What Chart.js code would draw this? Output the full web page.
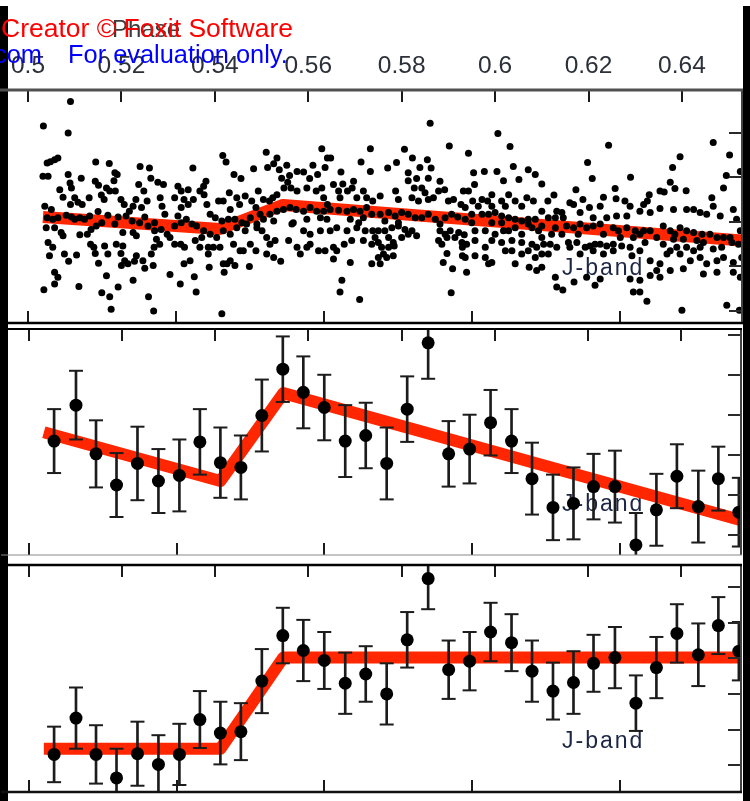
<!DOCTYPE html>
<html>
<head>
<meta charset="utf-8">
<script src="https://cdn.jsdelivr.net/npm/chart.js@4.4.1/dist/chart.umd.min.js"></script>
<style>
  html, body { margin: 0; padding: 0; background: #fff; }
  #wrap { position: relative; width: 750px; height: 801px; overflow: hidden; background: #fff; }
  #wrap canvas { position: absolute; left: 0; }
  .edge { position: absolute; background: #000; }
</style>
</head>
<body>
<div id="wrap">
  <div class="edge" style="left:0;top:6px;width:8px;height:795px"></div>
  <div class="edge" style="left:743px;top:6px;width:7px;height:795px"></div>
  <canvas id="topPanel" width="750" height="327" style="top:0"></canvas>
  <canvas id="midPanel" width="750" height="244" style="top:320px"></canvas>
  <canvas id="lowPanel" width="750" height="245" style="top:556px"></canvas>
</div>
<script>
// ── DATA ────────────────────────────────────────────────
const PHASE_MIN = 0.49572;
const PHASE_MAX = 0.65286;

// secondary (lower) tick positions along the bottom edges, in phase
const lowerTickPhase = [0.5000, 0.5317, 0.5634, 0.5951, 0.6268];

// model curves (phase breakpoints shared by the three bands)
const modelPhase = [0.5032, 0.5411, 0.5546, 0.6529];
const topModel   = [1.0011, 0.9984, 1.0038, 0.9958];
const midModel   = [1.0028, 0.9967, 1.0077, 0.9918];
const lowModel   = [0.9923, 0.9923, 1.0051, 1.0051];

// binned photometry (middle + bottom panel)
const binPhase = [0.5054,0.5101,0.5144,0.5188,0.5233,0.5278,0.5323,0.5367,0.5411,0.5455,0.5500,0.5545,0.5589,0.5634,0.5679,0.5723,0.5768,0.5812,0.5857,0.5901,0.5946,0.5991,0.6036,0.6080,0.6125,0.6169,0.6212,0.6258,0.6303,0.6347,0.6391,0.6437,0.6480,0.6524];
const midFlux = [1.0017,1.0062,1.0001,0.9962,0.9989,0.9967,0.9974,1.0016,0.9990,0.9984,1.0049,1.0107,1.0078,1.0059,1.0017,1.0024,0.9989,1.0057,1.0140,1.0001,1.0007,1.0040,1.0017,0.9970,0.9934,0.9939,0.9960,0.9960,0.9887,0.9931,0.9973,0.9935,0.9970,0.9928];
const midErr  = [0.0040,0.0043,0.0042,0.0040,0.0046,0.0040,0.0045,0.0041,0.0044,0.0040,0.0045,0.0041,0.0045,0.0041,0.0045,0.0041,0.0045,0.0041,0.0045,0.0041,0.0043,0.0041,0.0040,0.0045,0.0041,0.0045,0.0041,0.0045,0.0040,0.0045,0.0040,0.0045,0.0040,0.0043];
const lowFlux = [0.9915,0.9966,0.9915,0.9882,0.9916,0.9901,0.9915,0.9964,0.9945,0.9947,1.0018,1.0082,1.0061,1.0047,1.0015,1.0028,1.0000,1.0076,1.0162,1.0034,1.0046,1.0087,1.0072,1.0032,1.0004,1.0016,1.0043,1.0051,0.9987,1.0037,1.0085,1.0055,1.0096,1.0060];
const lowErr  = [0.0039,0.0043,0.0041,0.0041,0.0045,0.0041,0.0043,0.0040,0.0044,0.0040,0.0045,0.0039,0.0043,0.0040,0.0043,0.0039,0.0043,0.0039,0.0043,0.0041,0.0041,0.0041,0.0040,0.0043,0.0040,0.0044,0.0040,0.0043,0.0039,0.0043,0.0041,0.0044,0.0040,0.0041];

// unbinned points of the top panel: [phase, flux]
const topScatter = [
  [0.5091,1.0270],[0.5033,1.0215],[0.5086,1.0199],[0.5041,1.0132],[0.5048,1.0135],[0.5057,1.0139],[0.5064,1.0143],[0.5032,1.0102],[0.5043,1.0102],[0.5086,1.0106],
  [0.5145,1.0134],[0.5174,1.0131],[0.5186,1.0110],[0.5191,1.0106],[0.5184,1.0092],[0.5114,1.0098],[0.5090,1.0087],[0.5093,1.0076],[0.5068,1.0072],[0.5144,1.0091],
  [0.5151,1.0082],[0.5168,1.0076],[0.5175,1.0069],[0.5187,1.0069],[0.5157,1.0060],[0.5075,1.0055],[0.5100,1.0054],[0.5131,1.0054],[0.5107,1.0044],[0.5091,1.0039],
  [0.5116,1.0039],[0.5163,1.0050],[0.5199,1.0050],[0.5206,1.0039],[0.5240,1.0124],[0.5260,1.0121],[0.5263,1.0098],[0.5237,1.0084],[0.5248,1.0069],[0.5278,1.0089],
  [0.5290,1.0084],[0.5255,1.0047],[0.5231,1.0050],[0.5225,1.0035],[0.5243,1.0032],[0.5217,1.0024],[0.5283,1.0054],[0.5287,1.0035],[0.5293,1.0017],[0.5321,1.0080],
  [0.5328,1.0069],[0.5343,1.0072],[0.5314,1.0054],[0.5334,1.0050],[0.5343,1.0039],[0.5328,1.0032],[0.5321,1.0013],
  [0.5036,1.0035],[0.5050,1.0028],[0.5041,1.0009],[0.5053,1.0006],[0.5064,1.0009],[0.5082,1.0015],[0.5093,1.0011],[0.5100,1.0006],[0.5111,1.0009],[0.5121,1.0006],
  [0.5132,1.0013],[0.5150,1.0023],[0.5158,0.9998],[0.5171,1.0015],[0.5186,0.9995],[0.5193,1.0011],[0.5210,1.0013],[0.5223,1.0002],[0.5239,0.9998],[0.5250,1.0011],
  [0.5257,0.9991],[0.5271,0.9998],[0.5285,0.9983],[0.5298,0.9972],[0.5314,0.9991],[0.5328,0.9998],[0.5339,1.0006],
  [0.5039,0.9987],[0.5057,0.9987],[0.5071,0.9976],[0.5075,0.9969],[0.5111,0.9971],[0.5127,0.9972],[0.5135,0.9983],[0.5146,0.9991],[0.5203,0.9976],[0.5225,0.9976],
  [0.5232,0.9969],[0.5271,0.9980],[0.5275,0.9961],[0.5282,0.9950],[0.5304,0.9965],[0.5314,0.9950],[0.5327,0.9950],[0.5335,0.9943],[0.5043,0.9954],[0.5053,0.9943],
  [0.5046,0.9924],[0.5078,0.9928],[0.5087,0.9912],[0.5104,0.9926],[0.5134,0.9950],[0.5141,0.9943],[0.5144,0.9929],[0.5164,0.9946],[0.5171,0.9928],[0.5189,0.9950],
  [0.5203,0.9946],[0.5199,0.9929],[0.5232,0.9924],[0.5228,0.9912],[0.5207,0.9913],[0.5200,0.9902],[0.5246,0.9913],[0.5250,0.9896],[0.5264,0.9928],[0.5270,0.9943],
  [0.5268,0.9902],[0.5214,0.9906],[0.5151,0.9907],[0.5334,0.9906],[0.5057,0.9887],[0.5064,0.9876],[0.5057,0.9861],[0.5034,0.9848],[0.5109,0.9855],[0.5168,0.9879],
  [0.5225,0.9869],[0.5193,0.9854],[0.5158,0.9841],[0.5175,0.9832],[0.5178,0.9804],[0.5258,0.9832],[0.5269,0.9800],[0.5304,0.9882],[0.5326,0.9861],
  [0.5629,1.0164],[0.5510,1.0156],[0.5417,1.0149],[0.5424,1.0134],[0.5533,1.0143],[0.5353,1.0121],[0.5483,1.0119],[0.5513,1.0122],[0.5526,1.0130],[0.5538,1.0117],
  [0.5554,1.0127],[0.5610,1.0127],[0.5641,1.0143],[0.5648,1.0143],[0.5636,1.0122],[0.5733,1.0164],[0.5713,1.0134],[0.5733,1.0113],[0.5441,1.0106],[0.5456,1.0097],
  [0.5381,1.0091],[0.5376,1.0080],[0.5670,1.0112],[0.5620,1.0106],[0.5603,1.0097],[0.5590,1.0112],[0.5576,1.0113],[0.5560,1.0104],[0.5543,1.0098],[0.5548,1.0076],
  [0.5556,1.0089],[0.5563,1.0076],[0.5576,1.0069],[0.5597,1.0076],[0.5617,1.0069],[0.5629,1.0076],[0.5654,1.0084],[0.5674,1.0085],[0.5697,1.0091],[0.5694,1.0076],
  [0.5718,1.0069],[0.5665,1.0069],[0.5684,1.0069],[0.5493,1.0069],[0.5368,1.0069],[0.5377,1.0061],[0.5431,1.0065],[0.5408,1.0047],[0.5418,1.0047],[0.5447,1.0054],
  [0.5465,1.0058],[0.5479,1.0047],[0.5504,1.0050],[0.5524,1.0054],[0.5533,1.0061],[0.5354,1.0050],[0.5383,1.0039],[0.5433,1.0028],[0.5453,1.0039],[0.5488,1.0032],
  [0.5517,1.0047],[0.5633,1.0054],[0.5641,1.0039],[0.5668,1.0054],[0.5704,1.0054],[0.5725,1.0054],[0.5738,1.0047],
  [0.5390,1.0017],[0.5401,1.0009],[0.5415,1.0002],[0.5429,1.0006],[0.5443,1.0006],[0.5361,0.9991],[0.5376,0.9980],[0.5351,0.9995],[0.5458,0.9998],[0.5468,0.9995],
  [0.5476,1.0009],[0.5497,1.0017],[0.5518,1.0017],[0.5533,1.0024],[0.5547,1.0028],[0.5561,1.0032],[0.5574,1.0028],[0.5590,1.0024],[0.5604,1.0032],[0.5618,1.0024],
  [0.5633,1.0024],[0.5647,1.0028],[0.5665,1.0026],[0.5683,1.0024],[0.5697,1.0028],[0.5711,1.0024],[0.5725,1.0032],[0.5736,1.0017],[0.5504,1.0006],[0.5490,0.9995],
  [0.5526,1.0002],[0.5568,0.9998],[0.5597,1.0006],[0.5626,1.0009],[0.5640,1.0006],[0.5690,1.0006],[0.5708,0.9998],[0.5718,1.0009],[0.5447,0.9987],[0.5465,0.9980],
  [0.5433,0.9972],[0.5418,0.9980],[0.5404,0.9965],[0.5390,0.9972],[0.5372,0.9965],[0.5358,0.9958],
  [0.5490,0.9987],[0.5501,0.9980],[0.5511,0.9965],[0.5565,0.9995],[0.5590,0.9980],[0.5604,0.9972],[0.5626,0.9980],[0.5647,0.9980],[0.5661,0.9987],[0.5683,0.9980],
  [0.5704,0.9987],[0.5722,0.9980],[0.5738,0.9980],[0.5368,0.9943],[0.5386,0.9943],[0.5397,0.9943],[0.5411,0.9943],[0.5440,0.9950],[0.5454,0.9935],[0.5461,0.9935],
  [0.5476,0.9950],[0.5488,0.9935],[0.5518,0.9950],[0.5529,0.9958],[0.5558,0.9958],[0.5576,0.9943],[0.5583,0.9928],[0.5597,0.9943],[0.5604,0.9950],[0.5622,0.9935],
  [0.5636,0.9935],[0.5654,0.9943],[0.5661,0.9935],[0.5677,0.9950],[0.5693,0.9958],[0.5718,0.9958],[0.5736,0.9950],[0.5347,0.9913],[0.5386,0.9928],[0.5388,0.9898],
  [0.5418,0.9906],[0.5426,0.9906],[0.5433,0.9913],[0.5443,0.9902],[0.5474,0.9900],[0.5511,0.9928],[0.5526,0.9920],[0.5541,0.9912],[0.5654,0.9917],[0.5690,0.9909],
  [0.5736,0.9906],[0.5356,0.9877],[0.5420,0.9887],[0.5360,0.9843],[0.5672,0.9869],[0.5668,0.9843],[0.5710,0.9826],[0.5415,0.9794],
  [0.5861,1.0221],[0.6006,1.0198],[0.5902,1.0170],[0.5943,1.0154],[0.6032,1.0169],[0.5806,1.0163],[0.5823,1.0143],[0.5855,1.0139],[0.5789,1.0133],[0.5770,1.0121],
  [0.5839,1.0122],[0.5863,1.0121],[0.5814,1.0110],[0.5814,1.0092],[0.5832,1.0097],[0.5857,1.0098],[0.5882,1.0091],[0.5892,1.0072],[0.5954,1.0110],[0.5977,1.0113],
  [0.5956,1.0084],[0.6004,1.0113],[0.6018,1.0092],[0.6039,1.0124],[0.6051,1.0095],[0.6071,1.0117],[0.6086,1.0106],[0.6100,1.0085],[0.6126,1.0060],[0.5754,1.0058],
  [0.5787,1.0069],[0.5793,1.0050],[0.5827,1.0076],[0.5843,1.0076],[0.5850,1.0065],[0.5822,1.0054],[0.5836,1.0047],[0.5857,1.0050],[0.5868,1.0054],[0.5879,1.0069],
  [0.5900,1.0047],[0.5911,1.0050],[0.5932,1.0069],[0.5943,1.0069],[0.5952,1.0047],[0.5927,1.0039],[0.5972,1.0050],[0.5993,1.0061],[0.5984,1.0047],[0.6014,1.0047],
  [0.6029,1.0061],[0.6043,1.0047],[0.6068,1.0054],[0.6082,1.0047],[0.6057,1.0035],[0.6113,1.0047],[0.6132,1.0024],[0.5936,1.0032],[0.5964,1.0035],[0.5993,1.0035],
  [0.6022,1.0035],
  [0.5754,1.0017],[0.5772,1.0021],[0.5786,1.0013],[0.5800,1.0021],[0.5814,1.0017],[0.5829,1.0009],[0.5843,1.0009],[0.5857,1.0017],[0.5872,1.0006],[0.5764,1.0002],
  [0.5793,0.9998],[0.5893,1.0009],[0.5907,1.0017],[0.5920,1.0011],[0.5936,1.0006],[0.5950,1.0017],[0.5972,1.0017],[0.5986,1.0017],[0.6000,1.0021],[0.6014,1.0013],
  [0.6029,1.0009],[0.6043,1.0006],[0.6057,1.0002],[0.6071,1.0006],[0.6086,1.0006],[0.6100,1.0024],[0.6114,1.0009],[0.6129,1.0009],[0.5882,0.9995],[0.5950,0.9998],
  [0.5993,0.9998],[0.6014,0.9998],[0.6071,0.9995],[0.6100,0.9991],[0.6129,0.9987],
  [0.5750,0.9980],[0.5764,0.9980],[0.5779,0.9987],[0.5793,0.9991],[0.5807,0.9983],[0.5822,0.9980],[0.5832,0.9969],[0.5772,0.9965],[0.5782,0.9954],[0.5800,0.9965],
  [0.5814,0.9972],[0.5750,0.9954],[0.5743,0.9965],[0.5757,0.9943],[0.5772,0.9943],[0.5784,0.9946],[0.5761,0.9928],[0.5782,0.9924],[0.5768,0.9920],[0.5750,0.9920],
  [0.5754,0.9906],[0.5882,0.9980],[0.5893,0.9972],[0.5904,0.9980],[0.5922,0.9976],[0.5914,0.9965],[0.5934,0.9971],[0.5957,0.9980],[0.5979,0.9980],[0.6000,0.9972],
  [0.6018,0.9980],[0.6029,0.9980],[0.6043,0.9987],[0.6057,0.9972],[0.6079,0.9987],[0.6093,0.9980],[0.6100,0.9965],[0.6121,0.9972],[0.5879,0.9958],[0.5886,0.9950],
  [0.5897,0.9965],[0.5929,0.9954],[0.5939,0.9950],[0.5957,0.9958],[0.5979,0.9943],[0.5993,0.9958],[0.6014,0.9954],[0.6036,0.9958],[0.6057,0.9954],[0.6079,0.9950],
  [0.6089,0.9943],[0.6104,0.9950],[0.6118,0.9950],[0.6132,0.9943],[0.5897,0.9929],[0.5930,0.9943],[0.5930,0.9924],[0.5936,0.9920],[0.5957,0.9924],[0.5979,0.9920],
  [0.5993,0.9909],[0.5986,0.9906],[0.6022,0.9935],[0.6036,0.9935],[0.6057,0.9928],[0.6071,0.9935],[0.6086,0.9920],[0.6100,0.9928],[0.6114,0.9928],[0.5889,0.9909],
  [0.5909,0.9895],[0.5939,0.9887],[0.6043,0.9906],[0.6073,0.9898],[0.6089,0.9891],[0.6100,0.9898],[0.6129,0.9876],[0.6132,0.9854],[0.5906,0.9841],
  [0.6243,1.0172],[0.6467,1.0178],[0.6396,1.0146],[0.6502,1.0150],[0.6198,1.0133],[0.6208,1.0097],[0.6290,1.0100],[0.6380,1.0122],[0.6525,1.0113],[0.6495,1.0104],
  [0.6173,1.0072],[0.6168,1.0039],[0.6188,1.0050],[0.6160,1.0043],[0.6232,1.0055],[0.6257,1.0075],[0.6259,1.0052],[0.6278,1.0047],[0.6289,1.0035],[0.6330,1.0061],
  [0.6326,1.0047],[0.6353,1.0069],[0.6362,1.0067],[0.6385,1.0075],[0.6409,1.0070],[0.6375,1.0089],[0.6464,1.0054],[0.6489,1.0076],[0.6467,1.0035],[0.6225,1.0035],
  [0.6202,1.0032],[0.6143,1.0021],[0.6182,1.0021],[0.6318,1.0039],[0.6310,1.0024],[0.6332,1.0021],[0.6353,1.0030],[0.6382,1.0028],[0.6410,1.0028],[0.6425,1.0028],
  [0.6439,1.0021],[0.6453,1.0017],[0.6482,1.0013],[0.6510,1.0028],[0.6517,1.0006],[0.6210,1.0009],[0.6239,1.0009],[0.6260,1.0013],[0.6282,1.0013],[0.6146,1.0009],
  [0.6153,0.9991],[0.6168,0.9987],[0.6182,0.9995],[0.6196,0.9987],[0.6210,0.9991],[0.6225,0.9995],[0.6253,0.9987],[0.6264,0.9980],[0.6282,0.9987],[0.6300,0.9980],
  [0.6318,0.9980],[0.6332,0.9980],[0.6360,0.9991],[0.6375,0.9980],[0.6385,0.9972],[0.6396,0.9987],[0.6410,0.9980],[0.6425,0.9976],[0.6443,0.9972],[0.6460,0.9972],
  [0.6475,0.9965],[0.6489,0.9965],[0.6503,0.9965],[0.6525,0.9980],[0.6143,0.9972],[0.6178,0.9972],[0.6232,0.9972],[0.6268,0.9965],[0.6296,0.9965],[0.6310,0.9972],
  [0.6346,0.9965],[0.6382,0.9961],[0.6403,0.9961],[0.6432,0.9958],[0.6446,0.9954],
  [0.6157,0.9954],[0.6175,0.9954],[0.6193,0.9943],[0.6203,0.9946],[0.6214,0.9950],[0.6225,0.9950],[0.6239,0.9946],[0.6253,0.9950],[0.6271,0.9946],[0.6289,0.9943],
  [0.6321,0.9954],[0.6360,0.9950],[0.6375,0.9935],[0.6389,0.9943],[0.6410,0.9943],[0.6425,0.9935],[0.6439,0.9943],[0.6467,0.9939],[0.6485,0.9943],[0.6507,0.9954],
  [0.6521,0.9950],[0.6160,0.9943],[0.6182,0.9928],[0.6210,0.9935],[0.6232,0.9928],[0.6253,0.9935],[0.6293,0.9924],[0.6310,0.9935],[0.6332,0.9913],[0.6353,0.9906],
  [0.6368,0.9928],[0.6396,0.9928],[0.6418,0.9913],[0.6439,0.9920],[0.6453,0.9906],[0.6475,0.9913],[0.6489,0.9920],[0.6510,0.9909],[0.6528,0.9920],[0.6196,0.9876],
  [0.6169,0.9865],[0.6145,0.9847],[0.6214,0.9858],[0.6225,0.9872],[0.6289,0.9872],[0.6310,0.9869],[0.6346,0.9891],[0.6353,0.9876],[0.6332,0.9880],[0.6375,0.9891],
  [0.6403,0.9895],[0.6446,0.9883],[0.6475,0.9887],[0.6510,0.9887],[0.6525,0.9876],[0.6296,0.9843],[0.6310,0.9843],[0.6325,0.9822],[0.6400,0.9802],[0.6496,0.9813],
  [0.6523,0.9802]
];

// ── STYLE ───────────────────────────────────────────────
const FONT = '"Liberation Sans", Arial, Helvetica, sans-serif';
const MODEL_RED = "rgb(255,38,0)";

// frame, inward ticks, band label, watermark
const panelFrame = {
  id: "panelFrame",
  beforeDatasetsDraw(chart, args, opts) {
    if (!opts.label) return;
    const ctx = chart.ctx;
    ctx.save();
    ctx.font = "23px " + FONT;
    ctx.letterSpacing = "2px";
    ctx.fillStyle = "#1d2645";
    ctx.fillText(opts.label, opts.labelX, opts.labelY);
    ctx.restore();
  },
  afterDatasetsDraw(chart, args, opts) {
    const { ctx, chartArea: a, scales: { x, y } } = chart;
    const seg = (x1, y1, x2, y2) => { ctx.beginPath(); ctx.moveTo(x1, y1); ctx.lineTo(x2, y2); ctx.stroke(); };
    ctx.save();
    ctx.strokeStyle = "#1a1a1a";
    ctx.lineWidth = 2;
    x.ticks.forEach(t => {
      const px = Math.round(x.getPixelForValue(t.value));
      seg(px, a.top, px, a.top + 12);
    });
    lowerTickPhase.forEach(v => {
      const px = Math.round(x.getPixelForValue(v));
      seg(px, a.bottom, px, a.bottom - 12);
    });
    ctx.strokeStyle = "#2a2a2a";
    y.ticks.forEach(t => {
      const py = Math.round(y.getPixelForValue(t.value));
      seg(a.right - 13, py, a.right, py);
    });
    // frame
    ctx.strokeStyle = "#444"; ctx.lineWidth = 2;
    seg(a.right, a.top, a.right, a.bottom);
    ctx.strokeStyle = opts.topColor; ctx.lineWidth = opts.topWidth;
    seg(a.left - 8, a.top, a.right + 1, a.top);
    ctx.strokeStyle = opts.bottomColor; ctx.lineWidth = opts.bottomWidth;
    seg(a.left - 8, a.bottom, a.right + 1, a.bottom);
    ctx.restore();
  },
  afterDraw(chart, args, opts) {
    if (!opts.watermark) return;
    const ctx = chart.ctx;
    ctx.save();
    ctx.textBaseline = "alphabetic";
    ctx.font = "24px " + FONT; ctx.fillStyle = "#3c3c3c";
    ctx.fillText("Phase", 112, 37);
    ctx.font = "26.5px " + FONT; ctx.fillStyle = "#ff0000";
    ctx.fillText("Creator \u00a9 Foxit Software", 1, 37);
    ctx.font = "25.4px " + FONT; ctx.fillStyle = "#0000ff";
    ctx.fillText("com", -6, 63);
    ctx.fillText("For evaluation only.", 68, 63);
    ctx.restore();
  }
};

function xy(xs, ys) { return xs.map((v, i) => ({ x: v, y: ys[i] })); }

function modelLine(values) {
  return {
    type: "line", data: xy(modelPhase, values),
    borderColor: MODEL_RED, borderWidth: 12, borderJoinStyle: "round",
    pointRadius: 0, tension: 0, clip: 0, order: 3
  };
}

function binnedSets(flux, err) {
  const caps = [];
  binPhase.forEach((p, i) => {
    caps.push({ x: p, y: flux[i] + err[i] });
    caps.push({ x: p, y: flux[i] - err[i] });
  });
  return [
    {
      type: "bar",
      data: binPhase.map((p, i) => ({ x: p, y: [flux[i] - err[i], flux[i] + err[i]] })),
      backgroundColor: "#1c1c1c", barThickness: 2, borderWidth: 0, clip: 0, order: 2
    },
    {
      type: "scatter", data: caps, pointStyle: "line", pointRadius: 7,
      borderColor: "#1c1c1c", borderWidth: 2, clip: 0, order: 1
    },
    {
      type: "scatter", data: xy(binPhase, flux), pointRadius: 6.5,
      backgroundColor: "#000", borderWidth: 0, clip: 0, order: 0
    }
  ];
}

function panelChart(id, cfg) {
  return new Chart(document.getElementById(id), {
    type: "scatter",
    data: { datasets: cfg.datasets },
    options: {
      responsive: false,
      animation: false,
      events: [],
      layout: { padding: cfg.padding },
      plugins: {
        legend: { display: false },
        tooltip: { enabled: false },
        panelFrame: cfg.frame
      },
      scales: {
        x: {
          type: "linear", position: "top", offset: false,
          min: PHASE_MIN, max: PHASE_MAX,
          afterFit: s => { s.height = cfg.axisHeight; },
          grid: { display: false, drawTicks: false },
          border: { display: false },
          ticks: {
            display: cfg.showLabels, stepSize: 0.02, includeBounds: false,
            autoSkip: false, maxRotation: 0, padding: 9,
            color: "#2b3039", font: { family: FONT, size: 24.5 },
            callback: v => String(Number(v.toFixed(2)))
          }
        },
        y: {
          type: "linear", position: "right",
          min: cfg.yMin, max: cfg.yMax,
          afterFit: s => { s.width = 0; },
          grid: { display: false, drawTicks: false },
          border: { display: false },
          ticks: { display: false, stepSize: cfg.yStep, includeBounds: false }
        }
      }
    },
    plugins: [panelFrame]
  });
}

// ── TOP: unbinned J-band ────────────────────────────────
panelChart("topPanel", {
  datasets: [
    modelLine(topModel),
    {
      type: "scatter", data: topScatter.map(([p, f]) => ({ x: p, y: f })),
      pointRadius: 3.5, backgroundColor: "#000", borderWidth: 0, clip: 0, order: 0
    }
  ],
  padding: { left: 8, right: 8, top: 0, bottom: 2 },
  axisHeight: 90, showLabels: true,
  yMin: 0.97733, yMax: 1.02956, yStep: 0.01,
  frame: { topWidth: 3, topColor: "#505050", bottomWidth: 2.5, bottomColor: "#000",
           label: "J-band", labelX: 562, labelY: 275, watermark: true }
});

// ── MIDDLE: binned J-band, sloped model ─────────────────
panelChart("midPanel", {
  datasets: [modelLine(midModel), ...binnedSets(midFlux, midErr)],
  padding: { left: 8, right: 8, top: 6, bottom: 6 },
  axisHeight: 0, showLabels: false,
  yMin: 0.98744, yMax: 1.01573, yStep: 0.005,
  frame: { topWidth: 2, topColor: "#000", bottomWidth: 1.2, bottomColor: "#8a8a8a",
           label: "J-band", labelX: 562, labelY: 191 }
});

// ── BOTTOM: binned J-band, flat model ───────────────────
panelChart("lowPanel", {
  datasets: [modelLine(lowModel), ...binnedSets(lowFlux, lowErr)],
  padding: { left: 8, right: 8, top: 6, bottom: 3 },
  axisHeight: 0, showLabels: false,
  yMin: 0.98622, yMax: 1.01811, yStep: 0.005,
  frame: { topWidth: 2.5, topColor: "#000", bottomWidth: 2.5, bottomColor: "#111",
           label: "J-band", labelX: 562, labelY: 192 }
});
</script>
</body>
</html>
